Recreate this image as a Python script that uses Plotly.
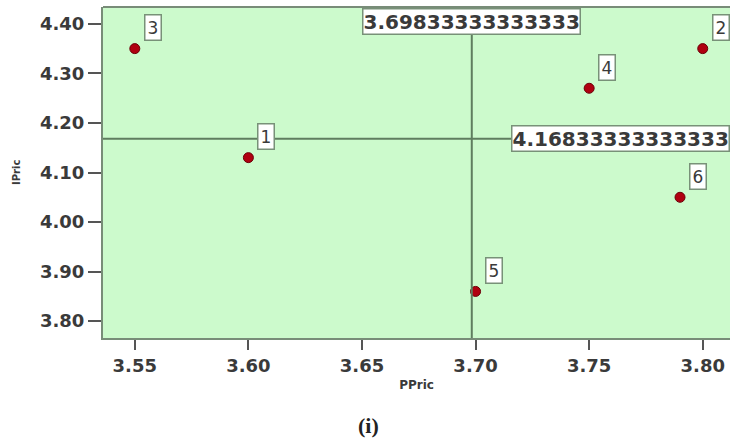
import plotly.graph_objects as go

case_ids = ["1", "2", "3", "4", "5", "6"]
ppric = [3.60, 3.80, 3.55, 3.75, 3.70, 3.79]
ipric = [4.13, 4.35, 4.35, 4.27, 3.86, 4.05]
x_ticks = [3.55, 3.60, 3.65, 3.70, 3.75, 3.80]
y_ticks = [3.80, 3.90, 4.00, 4.10, 4.20, 4.30, 4.40]

mx = sum(ppric) / len(ppric)
my = sum(ipric) / len(ipric)

X_RANGE = [3.536, 3.812]
Y_RANGE = [3.766, 4.434]
REF = "rgb(95,125,95)"
TXT = "#3a3a3a"
FONT = "DejaVu Sans"
BOX = "rgb(120,145,120)"

fig = go.Figure()
fig.add_trace(go.Scatter(
    x=ppric, y=ipric, mode="markers",
    marker=dict(size=10, color="#b00010", line=dict(color="#6a0008", width=1)),
    hoverinfo="skip", showlegend=False))

# reference lines at means
fig.add_shape(type="line", x0=mx, x1=mx, y0=0, y1=1, xref="x", yref="paper",
              line=dict(color=REF, width=2))
fig.add_shape(type="line", x0=0, x1=1, y0=my, y1=my, xref="paper", yref="y",
              line=dict(color=REF, width=2))

# point labels
for cid, xv, yv in zip(case_ids, ppric, ipric):
    fig.add_annotation(x=xv, y=yv, text=cid, showarrow=False,
                       xshift=18, yshift=21,
                       font=dict(family=FONT, size=17, color=TXT),
                       bgcolor="white", bordercolor=BOX, borderwidth=1.5,
                       borderpad=2)

# mean labels
fig.add_annotation(x=mx, y=1, xref="x", yref="paper", yanchor="top", yshift=-1,
                   text=f"{mx:.15g}", showarrow=False,
                   font=dict(family=FONT, size=20, color=TXT, weight="bold"),
                   bgcolor="white", bordercolor=BOX, borderwidth=1.5,
                   borderpad=0)
fig.add_annotation(x=3.7155, y=my, xref="x", yref="y", xanchor="left",
                   text=f"{my:.15g}", showarrow=False,
                   font=dict(family=FONT, size=20, color=TXT, weight="bold"),
                   bgcolor="white", bordercolor=BOX, borderwidth=1.5,
                   borderpad=0)

# top border
fig.add_shape(type="line", x0=0, x1=1, y0=1, y1=1, xref="paper", yref="paper",
              line=dict(color="rgb(120,140,120)", width=2))

fig.update_layout(
    width=730, height=447,
    margin=dict(l=103, r=0, t=7, b=109),
    paper_bgcolor="white",
    plot_bgcolor="rgb(204,250,204)",
    font=dict(family=FONT, color=TXT),
    showlegend=False,
    xaxis=dict(range=X_RANGE, tickvals=x_ticks,
               ticktext=[f"{v:.2f}" for v in x_ticks],
               showgrid=False, zeroline=False, showline=True,
               linecolor="rgb(120,140,120)", linewidth=2,
               ticks="outside", ticklen=10, tickcolor="#555", tickwidth=2,
               tickfont=dict(size=18, color=TXT, weight="bold"),
               title=dict(text="<b>PPric</b>", font=dict(size=12, color=TXT),
                          standoff=6)),
    yaxis=dict(range=Y_RANGE, tickvals=y_ticks,
               ticktext=[f"{v:.2f}" for v in y_ticks],
               showgrid=False, zeroline=False, showline=True,
               linecolor="rgb(120,140,120)", linewidth=2,
               ticks="outside", ticklen=13, tickcolor="#555", tickwidth=2,
               tickfont=dict(size=18, color=TXT, weight="bold")),
)

# y axis title
fig.add_annotation(x=0, y=0.5, xref="paper", yref="paper", xshift=-94,
                   text="<b>IPric</b>", textangle=-90, showarrow=False,
                   font=dict(family=FONT, size=10, color=TXT))

# caption
fig.add_annotation(x=0.5, y=-0.265, xref="paper", yref="paper",
                   xanchor="center", yanchor="middle",
                   text="<b>(i)</b>", showarrow=False,
                   font=dict(family="Liberation Serif, Times New Roman, serif",
                             size=22, color="#222"),
                   xshift=-48)

fig.write_html("out.html")
